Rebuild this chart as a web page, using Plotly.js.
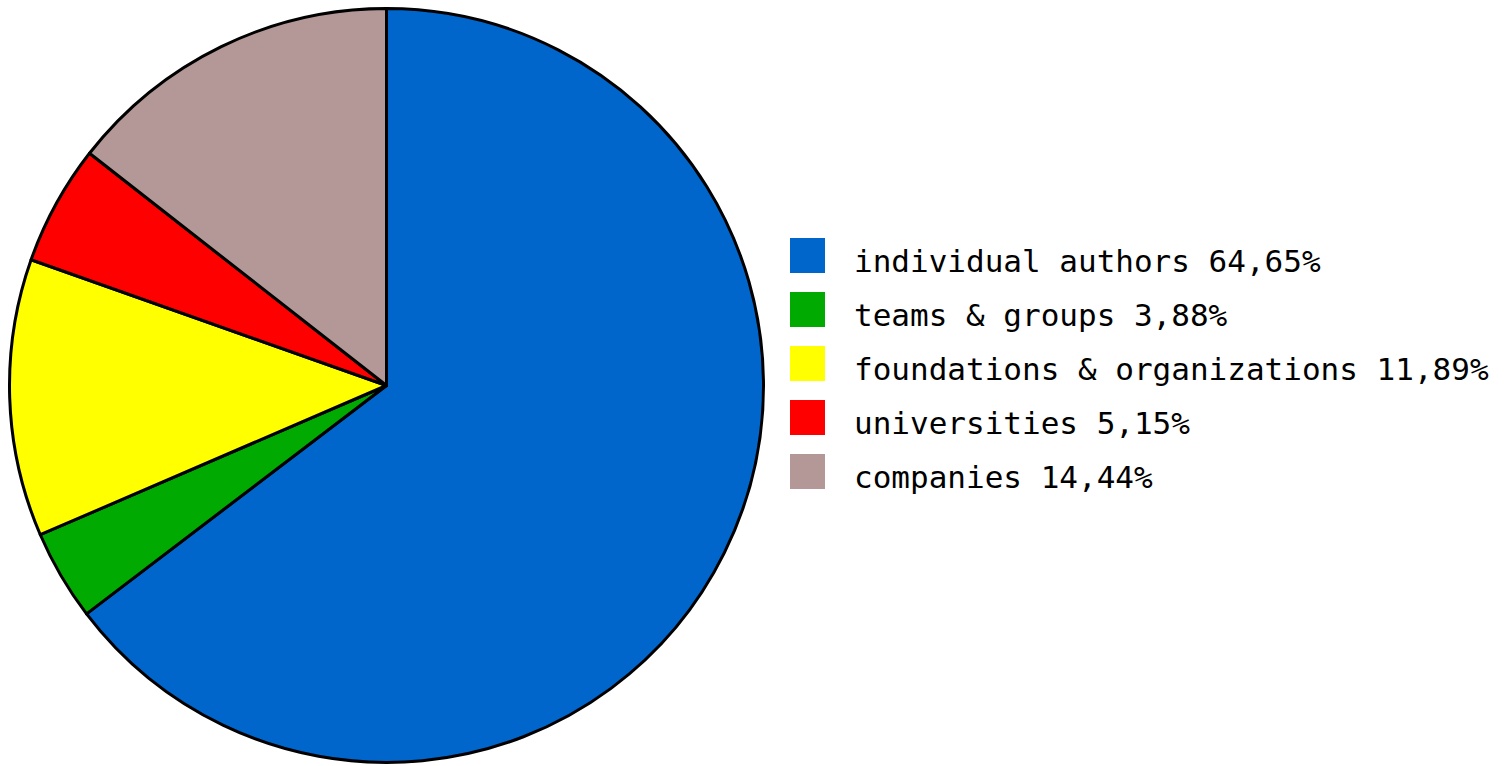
<!DOCTYPE html>
<html>
<head>
<meta charset="utf-8">
<script src="https://cdn.plot.ly/plotly-3.0.1.min.js"></script>
<style>
html,body{margin:0;padding:0;background:#fff;}
#chart{width:1509px;height:766px;}
</style>
</head>
<body>
<div id="chart"></div>
<script>
var categories = ["individual authors", "teams & groups", "foundations & organizations", "universities", "companies"];
var shares = [64.65, 3.88, 11.89, 5.15, 14.44];
var colors = ["#0066CC", "#00AA00", "#FFFF00", "#FF0000", "#B49898"];

(function () {
  var W = 1509, H = 766;
  var cx = 386.5, cy = 385.5, r = 377;

  var trace = {
    type: "pie",
    labels: categories,
    values: shares,
    sort: false,
    direction: "clockwise",
    rotation: 0,
    textinfo: "none",
    hoverinfo: "none",
    showlegend: false,
    marker: {colors: colors, line: {color: "#000000", width: 3}},
    domain: {x: [(cx - r) / W, (cx + r) / W], y: [(H - cy - r) / H, (H - cy + r) / H]}
  };

  var shapes = [], annotations = [];
  for (var i = 0; i < categories.length; i++) {
    var boxTop = 238 + i * 54;
    shapes.push({
      type: "rect", xref: "paper", yref: "paper",
      x0: 790 / W, x1: 825 / W, y0: 1 - (boxTop + 35) / H, y1: 1 - boxTop / H,
      fillcolor: colors[i], line: {width: 0}
    });
    annotations.push({
      xref: "paper", yref: "paper", x: 852 / W, y: 1 - (boxTop + 23) / H,
      xanchor: "left", yanchor: "middle", showarrow: false,
      text: categories[i].replace("&", "&amp;") + " " + shares[i].toFixed(2).replace(".", ",") + "%",
      font: {family: "DejaVu Sans Mono", size: 31, color: "#000000"}
    });
  }

  var layout = {
    width: W, height: H,
    margin: {l: 0, r: 0, t: 0, b: 0},
    paper_bgcolor: "#ffffff",
    plot_bgcolor: "#ffffff",
    showlegend: false,
    shapes: shapes,
    annotations: annotations
  };

  Plotly.newPlot("chart", [trace], layout, {displayModeBar: false, staticPlot: true});
})();
</script>
</body>
</html>
